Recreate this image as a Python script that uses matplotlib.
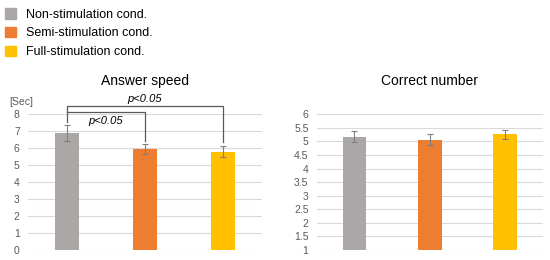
import matplotlib
matplotlib.use("Agg")
import matplotlib.pyplot as plt
from matplotlib.patches import Patch

plt.rcParams['font.family'] = ['Liberation Sans', 'DejaVu Sans']

conditions = ['Non-stimulation cond.', 'Semi-stimulation cond.', 'Full-stimulation cond.']
colors = ['#ABA7A6', '#ED7D31', '#FFC000']

speed_mean = [6.87, 5.95, 5.80]
speed_err = [0.47, 0.30, 0.31]
speed_ticks = [0, 1, 2, 3, 4, 5, 6, 7, 8]

correct_mean = [5.17, 5.07, 5.26]
correct_err = [0.21, 0.20, 0.17]
correct_ticks = [1, 1.5, 2, 2.5, 3, 3.5, 4, 4.5, 5, 5.5, 6]
correct_labels = ['1', '1.5', '2', '2.5', '3', '3.5', '4', '4.5', '5', '5.5', '6']

fig = plt.figure(figsize=(5.5, 2.6), dpi=100)
ax1 = fig.add_axes([0.051, 0.0385, 0.425, 0.522])
ax2 = fig.add_axes([0.576, 0.0385, 0.411, 0.522])

x = range(len(conditions))


def style(ax, ticks, labels, lo, hi):
    ax.set_xlim(-0.5, 2.5)
    ax.set_ylim(lo, hi)
    ax.set_yticks(ticks)
    ax.set_yticklabels(labels)
    ax.set_xticks([])
    for s in ax.spines.values():
        s.set_visible(False)
    ax.grid(axis='y', color='#D9D9D9', lw=0.8)
    ax.set_axisbelow(True)
    ax.tick_params(axis='y', length=0, labelsize=7.5, labelcolor='#595959', pad=6)


ax1.bar(x, speed_mean, width=0.31, color=colors,
        yerr=speed_err, error_kw=dict(ecolor='#7F7F7F', lw=0.8, capsize=2, capthick=0.8))
style(ax1, speed_ticks, [str(t) for t in speed_ticks], 0, 8)
ax1.set_title('Answer speed', fontsize=10, pad=21)
ax1.text(-0.08, 8.75, '[Sec]', transform=ax1.get_yaxis_transform(), fontsize=7.5,
         color='#595959', ha='left', va='center')

# brackets for significance
bk = dict(color='#595959', lw=0.9, clip_on=False)
ax1.plot([0, 0, 2, 2], [7.55, 8.5, 8.5, 6.35], **bk)
ax1.plot([0, 1, 1], [8.12, 8.12, 6.4], **bk)
ax1.text(1, 8.62, 'p<0.05', style='italic', fontsize=8, ha='center', va='bottom')
ax1.text(0.5, 7.9, 'p<0.05', style='italic', fontsize=8, ha='center', va='top')

ax2.bar(x, correct_mean, width=0.31, color=colors,
        yerr=correct_err, error_kw=dict(ecolor='#7F7F7F', lw=0.8, capsize=2, capthick=0.8))
style(ax2, correct_ticks, correct_labels, 1, 6)
ax2.set_title('Correct number', fontsize=10, pad=21)

handles = [Patch(color=c) for c in colors]
fig.legend(handles, conditions, loc='upper left', bbox_to_anchor=(-0.006, 1.0),
           frameon=False, fontsize=9, handlelength=0.9, handleheight=0.9,
           handletextpad=0.8, labelspacing=0.5, borderaxespad=0.25)

fig.savefig('out.png', dpi=100)
